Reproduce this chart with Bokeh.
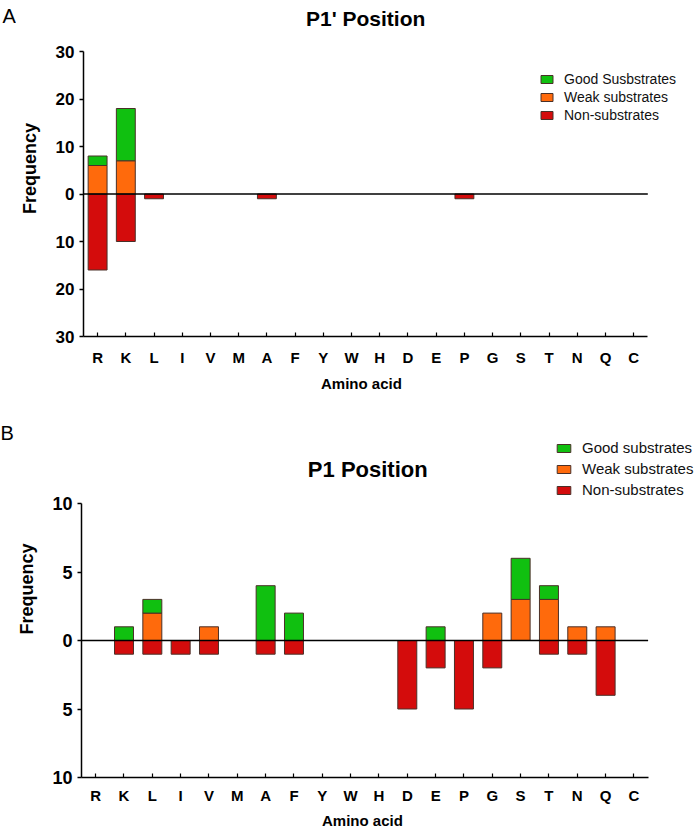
import numpy as np
from bokeh.plotting import figure
from bokeh.models import (ColumnDataSource, Range1d, FixedTicker, Label, Legend, LegendItem,
                          CustomJSTickFormatter, Title)
from bokeh.layouts import column, row
from bokeh.embed import file_html
from bokeh.resources import INLINE

amino = ["R", "K", "L", "I", "V", "M", "A", "F", "Y", "W",
         "H", "D", "E", "P", "G", "S", "T", "N", "Q", "C"]

# Panel A: P1' position
p1p_good = [2, 11, 0, 0, 0, 0, 0, 0, 0, 0, 0, 0, 0, 0, 0, 0, 0, 0, 0, 0]
p1p_weak = [6, 7, 0, 0, 0, 0, 0, 0, 0, 0, 0, 0, 0, 0, 0, 0, 0, 0, 0, 0]
p1p_non = [16, 10, 1, 0, 0, 0, 1, 0, 0, 0, 0, 0, 0, 1, 0, 0, 0, 0, 0, 0]
p1p_legend = ["Good Susbstrates", "Weak substrates", "Non-substrates"]

# Panel B: P1 position
p1_good = [0, 1, 1, 0, 0, 0, 4, 2, 0, 0, 0, 0, 1, 0, 0, 3, 1, 0, 0, 0]
p1_weak = [0, 0, 2, 0, 1, 0, 0, 0, 0, 0, 0, 0, 0, 0, 2, 3, 3, 1, 1, 0]
p1_non = [0, 1, 1, 1, 1, 0, 1, 1, 0, 0, 0, 5, 2, 5, 2, 0, 1, 1, 4, 0]
p1_legend = ["Good substrates", "Weak substrates", "Non-substrates"]

GREEN = "#10c010"
ORANGE = "#ff6a0c"
RED = "#d40c0c"
EDGE = "#4a3028"
SANS = "Liberation Sans"
TOTAL_W = 694


def letter_fig(letter, width, height, lx, lbase, size):
    f = figure(width=width, height=height, x_range=Range1d(0, width), y_range=Range1d(height, 0),
               output_backend="svg", toolbar_location=None, x_axis_type=None, y_axis_type=None,
               min_border=0)
    f.outline_line_color = None
    f.xgrid.visible = False
    f.ygrid.visible = False
    f.add_layout(Label(x=lx, y=lbase, text=letter, text_font=SANS, text_font_size=size,
                       text_align="left", text_baseline="alphabetic", text_color="black"))
    return f


def make_panel(title, good, weak, non, labels, ymax, ystep, H, lw, frame_left, ax_top, ax_bot,
               pitch, title_base, title_size, leg_left, leg_top, leg_font, glyph_w, leg_spacing,
               ytick_size, tick_standoff, xlab_standoff, ylab_standoff):
    n = len(amino)
    xs = np.arange(n) + 0.5
    frame_w = TOTAL_W - frame_left
    x_end = frame_w / pitch
    pxu = (ax_bot - ax_top) / (2.0 * ymax)
    y_top = ymax + ax_top / pxu

    p = figure(width=TOTAL_W - lw, height=H, x_range=Range1d(0, x_end),
               y_range=Range1d(-ymax, y_top), output_backend="svg", toolbar_location=None,
               min_border_left=frame_left - lw, min_border_right=0, min_border_top=0,
               min_border_bottom=H - ax_bot)
    p.outline_line_color = None
    p.xgrid.visible = False
    p.ygrid.visible = False

    weak_top = np.array(weak, dtype=float)
    good_top = weak_top + np.array(good, dtype=float)
    non_top = -np.array(non, dtype=float)
    zero = np.zeros(n)

    def src(b, t):
        keep = t != b
        return ColumnDataSource(dict(x=xs[keep], bottom=b[keep], top=t[keep]))

    r_non = p.vbar(x="x", bottom="bottom", top="top", width=0.67, source=src(zero, non_top),
                   fill_color=RED, line_color=EDGE, line_width=1)
    r_weak = p.vbar(x="x", bottom="bottom", top="top", width=0.67, source=src(zero, weak_top),
                    fill_color=ORANGE, line_color=EDGE, line_width=1)
    r_good = p.vbar(x="x", bottom="bottom", top="top", width=0.67, source=src(weak_top, good_top),
                    fill_color=GREEN, line_color=EDGE, line_width=1)

    # zero baseline across the categories
    p.segment(x0=[0], y0=[0], x1=[n], y1=[0], line_color="black", line_width=1.5)

    # y axis
    yax = p.yaxis[0]
    yax.bounds = (-ymax, ymax)
    yax.ticker = FixedTicker(ticks=list(range(-ymax, ymax + 1, ystep)))
    yax.formatter = CustomJSTickFormatter(code="return Math.abs(tick).toString()")
    yax.minor_tick_line_color = None
    yax.major_tick_in = 0
    yax.major_tick_out = 4
    yax.major_label_standoff = 5
    yax.major_label_text_font = SANS
    yax.major_label_text_font_style = "bold"
    yax.major_label_text_font_size = ytick_size
    yax.major_label_text_color = "black"
    yax.axis_line_width = 1.5
    yax.axis_line_color = "black"
    yax.major_tick_line_width = 1.5
    yax.major_tick_line_color = "black"
    yax.axis_label = "Frequency"
    yax.axis_label_text_font = SANS
    yax.axis_label_text_font_style = "bold"
    yax.axis_label_text_font_size = "18px"
    yax.axis_label_text_color = "black"
    yax.axis_label_standoff = ylab_standoff

    # x axis (categories at half-integer positions)
    xax = p.xaxis[0]
    xax.bounds = (0, n)
    xax.ticker = FixedTicker(ticks=list(xs))
    xax.formatter = CustomJSTickFormatter(args=dict(letters=amino),
                                          code="return letters[Math.floor(tick)];")
    xax.minor_tick_line_color = None
    xax.major_tick_in = 4
    xax.major_tick_out = 0
    xax.major_label_standoff = tick_standoff
    xax.major_label_text_font = SANS
    xax.major_label_text_font_style = "bold"
    xax.major_label_text_font_size = "15px"
    xax.major_label_text_color = "black"
    xax.axis_line_width = 1.5
    xax.axis_line_color = "black"
    xax.major_tick_line_width = 1.2
    xax.major_tick_line_color = "black"

    # x axis title, centred under the category axis (not under the wider frame)
    lab_w = 81
    p.add_layout(Title(text="Amino acid", align="left", vertical_align="top",
                       offset=n * pitch / 2 - lab_w / 2 - 6, standoff=xlab_standoff,
                       text_font=SANS, text_font_style="bold", text_font_size="15px",
                       text_color="black"), "below")

    # title, inside the frame (converted from panel pixel positions)
    tx = (363 - frame_left) / pitch
    ty = ymax - (title_base - ax_top) / pxu
    p.add_layout(Label(x=tx, y=ty, text=title, text_font=SANS, text_font_size=title_size,
                       text_font_style="bold", text_align="center",
                       text_baseline="alphabetic", text_color="black"))

    # legend
    row_h = 16 if leg_font == "14px" else 17
    leg_h = 3 * row_h + 2 * leg_spacing
    legend = Legend(items=[LegendItem(label=labels[0], renderers=[r_good]),
                           LegendItem(label=labels[1], renderers=[r_weak]),
                           LegendItem(label=labels[2], renderers=[r_non])],
                    location=(leg_left - frame_left, ax_bot - (leg_top + leg_h)),
                    glyph_width=glyph_w, glyph_height=10, label_standoff=10,
                    label_text_font=SANS, label_text_font_size=leg_font,
                    label_text_color="#111111", spacing=leg_spacing, padding=0, margin=0,
                    border_line_alpha=0, background_fill_alpha=0, label_height=12)
    p.add_layout(legend)
    return p


HA, HB = 400, 435
LWA, LWB = 16, 14

figA = make_panel("P1' Position", p1p_good, p1p_weak, p1p_non, p1p_legend, 30, 10,
                  H=HA, lw=LWA, frame_left=79, ax_top=51, ax_bot=336, pitch=28.4,
                  title_base=18, title_size="21px", leg_left=535, leg_top=71, leg_font="14px",
                  glyph_w=15, leg_spacing=2, ytick_size="17px", tick_standoff=12,
                  xlab_standoff=13, ylab_standoff=13)
letA = letter_fig("A", LWA, HA, 2, 19, "20px")

figB = make_panel("P1 Position", p1_good, p1_weak, p1_non, p1_legend, 10, 5,
                  H=HB, lw=LWB, frame_left=73, ax_top=103, ax_bot=377, pitch=28.7,
                  title_base=69, title_size="22px", leg_left=547, leg_top=39, leg_font="15px",
                  glyph_w=17, leg_spacing=4, ytick_size="18px", tick_standoff=9,
                  xlab_standoff=10, ylab_standoff=12)
letB = letter_fig("B", LWB, HB, 0, 38, "20px")

layout = column(row(letA, figA, spacing=0), row(letB, figB, spacing=0), spacing=0)
open("out.html", "w").write(file_html(layout, INLINE))
